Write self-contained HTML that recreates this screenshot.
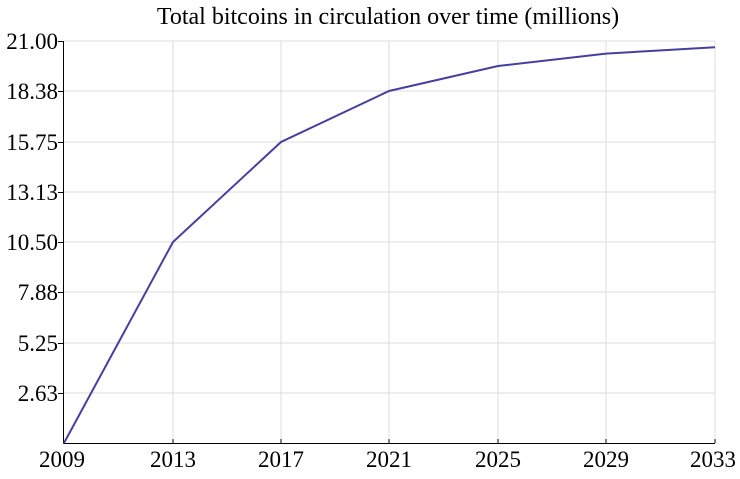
<!DOCTYPE html>
<html><head><style>body{margin:0;background:#fff}</style></head><body>
<svg width="740" height="474" xmlns="http://www.w3.org/2000/svg" font-family="Liberation Serif, serif">
<rect width="740" height="474" fill="#fff"/>
<g stroke="#dcdcdc" stroke-width="1">
<line x1="173" y1="41" x2="173" y2="443"/><line x1="281" y1="41" x2="281" y2="443"/>
<line x1="389" y1="41" x2="389" y2="443"/><line x1="498" y1="41" x2="498" y2="443"/>
<line x1="606" y1="41" x2="606" y2="443"/><line x1="715" y1="41" x2="715" y2="443"/>
<line x1="64" y1="41" x2="715" y2="41"/><line x1="64" y1="91" x2="715" y2="91"/>
<line x1="64" y1="142" x2="715" y2="142"/><line x1="64" y1="192" x2="715" y2="192"/>
<line x1="64" y1="242" x2="715" y2="242"/><line x1="64" y1="292" x2="715" y2="292"/>
<line x1="64" y1="343" x2="715" y2="343"/><line x1="64" y1="393" x2="715" y2="393"/>
</g>
<g stroke="#000" stroke-width="1">
<line x1="63.5" y1="41" x2="63.5" y2="443.5"/>
<line x1="63.5" y1="443.5" x2="715" y2="443.5"/>
<line x1="58" y1="41.5" x2="63.5" y2="41.5"/><line x1="58" y1="91.5" x2="63.5" y2="91.5"/>
<line x1="58" y1="142.5" x2="63.5" y2="142.5"/><line x1="58" y1="192.5" x2="63.5" y2="192.5"/>
<line x1="58" y1="242.5" x2="63.5" y2="242.5"/><line x1="58" y1="292.5" x2="63.5" y2="292.5"/>
<line x1="58" y1="343.5" x2="63.5" y2="343.5"/><line x1="58" y1="393.5" x2="63.5" y2="393.5"/>
<line x1="173" y1="439" x2="173" y2="443"/><line x1="281" y1="439" x2="281" y2="443"/>
<line x1="389" y1="439" x2="389" y2="443"/><line x1="498" y1="439" x2="498" y2="443"/>
<line x1="606" y1="439" x2="606" y2="443"/><line x1="715" y1="439" x2="715" y2="443"/>
</g>
<polyline fill="none" stroke="#463fa0" stroke-width="2" points="64,443 173,242 281,142 389,91 498,66 606,53.6 715,47.3"/>
<text x="388" y="24" font-size="24" text-anchor="middle">Total bitcoins in circulation over time (millions)</text>
<g font-size="23" text-anchor="end">
<text x="58" y="49">21.00</text><text x="58" y="99">18.38</text><text x="58" y="150">15.75</text>
<text x="58" y="200">13.13</text><text x="58" y="250">10.50</text><text x="58" y="300">7.88</text>
<text x="58" y="351">5.25</text><text x="58" y="401">2.63</text>
</g>
<g font-size="23" text-anchor="middle">
<text x="62" y="467">2009</text><text x="173" y="467">2013</text><text x="281" y="467">2017</text>
<text x="389" y="467">2021</text><text x="498" y="467">2025</text><text x="606" y="467">2029</text>
<text x="713" y="467">2033</text>
</g>
</svg>
</body></html>
